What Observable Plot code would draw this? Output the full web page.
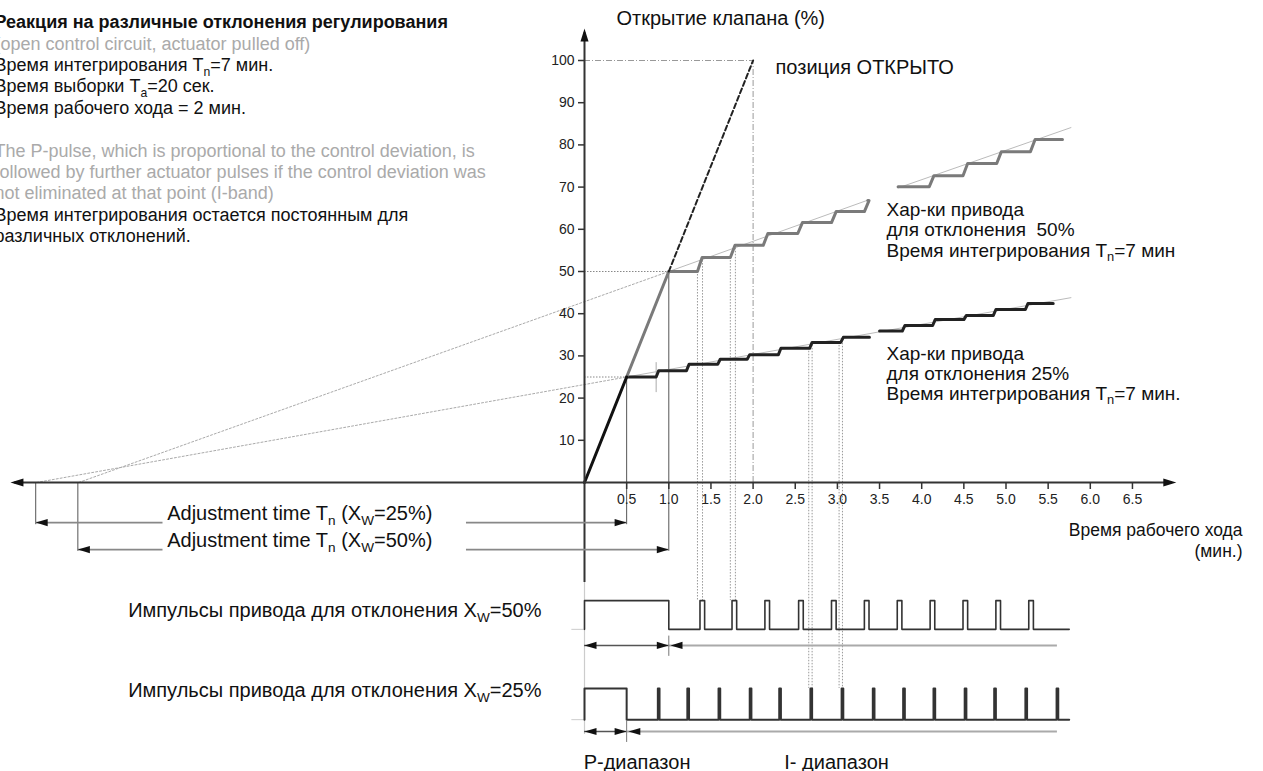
<!DOCTYPE html>
<html><head><meta charset="utf-8">
<script src="https://cdn.jsdelivr.net/npm/d3@7"></script>
<script src="https://cdn.jsdelivr.net/npm/@observablehq/plot@0.6"></script>
<style>
html,body{margin:0;padding:0;background:#fff;}
#chart svg{display:block;}
</style></head><body><div id="chart"></div>
<script>
// ---------------- DATA ----------------
const yTickValues = [10, 20, 30, 40, 50, 60, 70, 80, 90, 100];
const xTickValues = [0.5, 1.0, 1.5, 2.0, 2.5, 3.0, 3.5, 4.0, 4.5, 5.0, 5.5, 6.0, 6.5];
const xTickLabels = ["0.5","1.0","1.5","2.0","2.5","3.0","3.5","4.0","4.5","5.0","5.5","6.0","6.5"];

// P-ramp of the actuator (2 min full travel)
const rampTimes = [0, 0.5, 1.0];
const rampLevels = [0, 25, 50];
const openTimes = [1.0, 2.0];
const openLevels = [50, 100];

// integral (Tn = 7 min) reference lines
const ext25Times = [-6.5, 0.5], ext25Levels = [0, 25];
const ext50Times = [-6.0, 1.0], ext50Levels = [0, 50];
const trend25Times = [0.5, 5.77], trend25Levels = [25, 43.8];
const trend50LowTimes = [1.0, 3.36], trend50LowLevels = [50, 66.9];
const trend50UpTimes = [3.72, 5.77], trend50UpLevels = [69.8, 84.1];

// staircase responses (visible parts)
const stair50LowStepTimes = [1.34, 1.73, 2.12, 2.53, 2.93, 3.32];
const stair50LowLevels = [53.3, 56.2, 59.0, 61.6, 64.2, 66.8];
const stair50UpStepTimes = [4.09, 4.49, 4.89, 5.29];
const stair50UpLevels = [72.7, 75.6, 78.4, 81.3];
const stair25LowStepTimes = [0.85, 1.21, 1.58, 1.93, 2.30, 2.67, 3.04];
const stair25LowLevels = [26.5, 28.0, 29.2, 30.3, 31.8, 33.2, 34.4];
const stair25UpStepTimes = [3.77, 4.13, 4.50, 4.85, 5.23];
const stair25UpLevels = [37.2, 38.6, 39.6, 41.0, 42.4];
const stairSegments = [
  {start: 1.0, level: 50, end: 3.36},
  {start: 3.72, level: 70.1, end: 5.67},
  {start: 0.5, level: 25, end: 3.38},
  {start: 3.50, level: 35.9, end: 5.56}
];

// actuator pulses
const pBandEnds = [1.0, 0.5];           // P-pulse length for Xw = 50 %, 25 %
const pulse50Times = [1.37, 1.75, 2.14, 2.54, 2.93, 3.32, 3.71, 4.10, 4.49, 4.88, 5.27];
const pulse25Times = [0.87, 1.22, 1.59, 1.96, 2.31, 2.68, 3.05, 3.42, 3.78, 4.14, 4.51, 4.86, 5.23, 5.60];
const pulseEnd = 5.75;
const iBandEnd = 5.61;

// projection lines from the staircase down to the pulses
const drop50Times = [1.34, 1.40, 1.73, 1.79];
const drop50Levels = [50, 53.3, 53.3, 56.2];
const drop25Times = [2.66, 2.70, 3.02, 3.06];
const drop25Levels = [31.8, 33.2, 33.2, 34.4];

// texts
const noteLines = [
  "Реакция на различные отклонения регулирования",
  "(open control circuit, actuator pulled off)",
  "Время интегрирования T_{n}=7 мин.",
  "Время выборки T_{a}=20 сек.",
  "Время рабочего хода = 2 мин.",
  "",
  "The P-pulse, which is proportional to the control deviation, is",
  "followed by further actuator pulses if the control deviation was",
  "not eliminated at that point (I-band)",
  "Время интегрирования остается постоянным для",
  "различных отклонений."
];
const label50Lines = ["Хар-ки привода", "для отклонения  50%", "Время интегрирования T_{n}=7 мин"];
const label25Lines = ["Хар-ки привода", "для отклонения 25%", "Время интегрирования T_{n}=7 мин."];
const yAxisTitle = "Открытие клапана (%)";
const openLabel = "позиция ОТКРЫТО";
const xAxisTitle = ["Время рабочего хода", "(мин.)"];
const adjustLabels = ["Adjustment time T_{n} (X_{W}=25%)", "Adjustment time T_{n} (X_{W}=50%)"];
const pulseLabels = ["Импульсы привода для отклонения X_{W}=50%", "Импульсы привода для отклонения X_{W}=25%"];
const bandLabels = ["P-диапазон", "I- диапазон"];

// ---------------- LAYOUT / STYLE ----------------
const FONT = "'Liberation Sans', Arial, Helvetica, sans-serif";
const grayNote = new Set([1, 6, 7, 8]);
const ROW50 = {base: -34.8, top: -28.0, arrow: -38.6, label: -30.3};
const ROW25 = {base: -56.2, top: -48.8, arrow: -59.0, label: -49.3};
const ADJ = [{y: -9.5, text: -7.4, left: -6.51, right: 0.5}, {y: -15.9, text: -13.8, left: -6.01, right: 1.0}];
const GAP = [-5.0, -1.40];
const AXIS = {left: -6.81, right: 7.02, top: 107.6, below: -23.7, belowGray: -59.7};

const pts = (ts, ls) => ts.map((t, i) => ({t, v: ls[i]}));

function stair(seg, stepTimes, levels, riser) {
  const out = [{t: seg.start, v: seg.level}];
  let cur = seg.level;
  stepTimes.forEach((t, i) => {
    out.push({t, v: cur});
    out.push({t: t + riser, v: levels[i]});
    cur = levels[i];
  });
  out.push({t: seg.end, v: cur});
  return out;
}
function wave(row, pEnd, pulses, w) {
  const out = [{t: 0, v: row.base}, {t: 0, v: row.top}, {t: pEnd, v: row.top}, {t: pEnd, v: row.base}];
  pulses.forEach(p => { out.push({t: p, v: row.base}, {t: p, v: row.top}, {t: p + w, v: row.top}, {t: p + w, v: row.base}); });
  out.push({t: pulseEnd, v: row.base});
  return out;
}
const arrowSym = (L, W) => ({draw(ctx) { ctx.moveTo(0, 0); ctx.lineTo(-L, -W); ctx.lineTo(-L, W); ctx.closePath(); }});

const line = (data, o) => Plot.line(data, {x: "t", y: "v", ...o});

const marks = [];
// guides
marks.push(
  Plot.ruleY([100], {x1: 0, x2: 2.0, stroke: "#999", strokeDasharray: "6,2,1,2"}),
  Plot.ruleX([2.0], {y1: 0, y2: 100, stroke: "#999", strokeDasharray: "6,2,1,2"}),
  Plot.ruleY([50], {x1: 0, x2: 1.0, stroke: "#888", strokeDasharray: "1.5,1.5"}),
  Plot.ruleY([25], {x1: 0, x2: 0.5, stroke: "#888", strokeDasharray: "1.5,1.5"}),
  Plot.ruleX([0.5], {y1: 25, y2: ADJ[0].y - 0.5, stroke: "#555", strokeWidth: 1}),
  Plot.ruleX([1.0], {y1: 50, y2: ADJ[1].y - 0.4, stroke: "#555", strokeWidth: 1}),
  Plot.ruleX([ADJ[0].left], {y1: 0, y2: ADJ[0].y - 0.5, stroke: "#555", strokeWidth: 1}),
  Plot.ruleX([ADJ[1].left], {y1: 0, y2: ADJ[1].y - 0.4, stroke: "#555", strokeWidth: 1}),
  Plot.ruleX([0.85], {y1: 21.3, y2: 28.4, stroke: "#aaa", strokeWidth: 1}),
  Plot.ruleX(drop50Times, {x: d => d, y1: (d, i) => drop50Levels[i], y2: ROW50.top, stroke: "#999", strokeDasharray: "1.5,1.5", strokeWidth: 1}),
  Plot.ruleX(drop25Times, {x: d => d, y1: (d, i) => drop25Levels[i], y2: ROW25.top, stroke: "#999", strokeDasharray: "1.5,1.5", strokeWidth: 1}),
  Plot.ruleX([0], {y1: AXIS.below, y2: AXIS.belowGray, stroke: "#ccc", strokeWidth: 1.2})
);
// Tn reference lines
marks.push(
  line(pts(ext25Times, ext25Levels), {stroke: "#aaa", strokeDasharray: "2,2", strokeWidth: 1}),
  line(pts(ext50Times, ext50Levels), {stroke: "#aaa", strokeDasharray: "2,2", strokeWidth: 1}),
  line(pts(trend25Times, trend25Levels), {stroke: "#bbb", strokeWidth: 1}),
  line(pts(trend50LowTimes, trend50LowLevels), {stroke: "#bbb", strokeWidth: 1}),
  line(pts(trend50UpTimes, trend50UpLevels), {stroke: "#bbb", strokeWidth: 1})
);
// staircases
marks.push(
  line(stair(stairSegments[0], stair50LowStepTimes, stair50LowLevels, 0.055), {stroke: "#7a7a7a", strokeWidth: 3}),
  line(stair(stairSegments[1], stair50UpStepTimes, stair50UpLevels, 0.055), {stroke: "#7a7a7a", strokeWidth: 3}),
  line(stair(stairSegments[2], stair25LowStepTimes, stair25LowLevels, 0.03), {stroke: "#222", strokeWidth: 3}),
  line(stair(stairSegments[3], stair25UpStepTimes, stair25UpLevels, 0.03), {stroke: "#222", strokeWidth: 3})
);
// ramps
marks.push(
  line(pts(rampTimes.slice(1), rampLevels.slice(1)), {stroke: "#7a7a7a", strokeWidth: 3}),
  line(pts(rampTimes.slice(0, 2), rampLevels.slice(0, 2)), {stroke: "#111", strokeWidth: 3}),
  line(pts(openTimes, openLevels), {stroke: "#222", strokeWidth: 2, strokeDasharray: "5,3"})
);
// axes
marks.push(
  Plot.ruleY([0], {x1: AXIS.left + 0.05, x2: AXIS.right - 0.05, stroke: "#333", strokeWidth: 2}),
  Plot.ruleX([0], {y1: AXIS.below, y2: AXIS.top - 1, stroke: "#333", strokeWidth: 2}),
  Plot.ruleX(xTickValues, {x: d => d, y1: 0, y2: 0, insetBottom: -7, stroke: "#333", strokeWidth: 1.5}),
  Plot.ruleY(yTickValues, {y: d => d, x1: 0, x2: 0, insetLeft: -6, stroke: "#333", strokeWidth: 1.5}),
  Plot.text(xTickValues, {x: d => d, y: 0, dy: 17, text: (d, i) => xTickLabels[i], fontFamily: FONT, fontSize: 14, fill: "#222"}),
  Plot.text(yTickValues, {x: 0, y: d => d, dx: -10, textAnchor: "end", text: d => String(d), fontFamily: FONT, fontSize: 14, fill: "#222"})
);
// adjustment-time dimension lines
ADJ.forEach((a, i) => {
  marks.push(
    Plot.ruleY([a.y], {x1: a.left, x2: GAP[0], stroke: "#888", strokeWidth: 1.6}),
    Plot.ruleY([a.y], {x1: GAP[1], x2: a.right, stroke: "#888", strokeWidth: 1.6}),
    Plot.text([adjustLabels[i]], {x: GAP[0] + 0.05, y: a.text, text: d => d, textAnchor: "start", fontFamily: FONT, fontSize: 20, fill: "#111"})
  );
});
// pulses
marks.push(
  Plot.ruleY([ROW50.base], {x1: -0.15, x2: 0, stroke: "#ccc"}),
  Plot.ruleY([ROW25.base], {x1: -0.15, x2: 0, stroke: "#ccc"}),
  line(wave(ROW50, pBandEnds[0], pulse50Times, 0.055), {stroke: "#333", strokeWidth: 1.6}),
  line(wave(ROW25, pBandEnds[1], pulse25Times, 0.02), {stroke: "#333", strokeWidth: 2}),
  Plot.ruleY([ROW50.arrow], {x1: 0, x2: pBandEnds[0], stroke: "#555", strokeWidth: 1.5}),
  Plot.ruleY([ROW50.arrow], {x1: pBandEnds[0], x2: iBandEnd, stroke: "#aaa", strokeWidth: 2}),
  Plot.ruleY([ROW25.arrow], {x1: 0, x2: pBandEnds[1], stroke: "#555", strokeWidth: 1.5}),
  Plot.ruleY([ROW25.arrow], {x1: pBandEnds[1], x2: iBandEnd, stroke: "#aaa", strokeWidth: 2}),
  Plot.ruleX([pBandEnds[0]], {y1: ROW50.arrow + 2.2, y2: ROW50.arrow - 2.6, stroke: "#777", strokeWidth: 1}),
  Plot.ruleX([pBandEnds[1]], {y1: ROW25.base - 0.2, y2: ROW25.arrow - 2.6, stroke: "#777", strokeWidth: 1}),
  Plot.text([pulseLabels[0]], {x: -0.51, y: ROW50.label, text: d => d, textAnchor: "end", fontFamily: FONT, fontSize: 20, fill: "#111"}),
  Plot.text([pulseLabels[1]], {x: -0.51, y: ROW25.label, text: d => d, textAnchor: "end", fontFamily: FONT, fontSize: 20, fill: "#111"}),
  Plot.text([bandLabels[0]], {x: -0.01, y: -66.4, text: d => d, textAnchor: "start", fontFamily: FONT, fontSize: 20, fill: "#111"}),
  Plot.text([bandLabels[1]], {x: 2.37, y: -66.4, text: d => d, textAnchor: "start", fontFamily: FONT, fontSize: 20, fill: "#111"})
);
// arrowheads
const bigHead = arrowSym(13, 4);
const smallHead = arrowSym(12, 3.6);
marks.push(
  Plot.dot([{t: AXIS.left, v: 0, r: 180}, {t: AXIS.right, v: 0, r: 0}, {t: 0, v: AXIS.top, r: -90}],
    {x: "t", y: "v", rotate: "r", symbol: bigHead, fill: "#111", stroke: "none", r: 5}),
  Plot.dot([
    {t: ADJ[0].left, v: ADJ[0].y, r: 180}, {t: ADJ[0].right, v: ADJ[0].y, r: 0},
    {t: ADJ[1].left, v: ADJ[1].y, r: 180}, {t: ADJ[1].right, v: ADJ[1].y, r: 0},
    {t: 0, v: ROW50.arrow, r: 180}, {t: pBandEnds[0], v: ROW50.arrow, r: 0}, {t: pBandEnds[0] + 0.02, v: ROW50.arrow, r: 180},
    {t: 0, v: ROW25.arrow, r: 180}, {t: pBandEnds[1], v: ROW25.arrow, r: 0}, {t: pBandEnds[1] + 0.02, v: ROW25.arrow, r: 180}
  ], {x: "t", y: "v", rotate: "r", symbol: smallHead, fill: "#111", stroke: "none", r: 5})
);
// annotations
marks.push(
  Plot.text([yAxisTitle], {frameAnchor: "top-left", dx: 616, dy: 18, lineAnchor: "middle", text: d => d, fontFamily: FONT, fontSize: 20, fill: "#111"}),
  Plot.text([openLabel], {frameAnchor: "top-left", dx: 775, dy: 67, lineAnchor: "middle", text: d => d, fontFamily: FONT, fontSize: 20, fill: "#111"}),
  Plot.text([xAxisTitle[0]], {frameAnchor: "top-left", dx: 1242, dy: 530, textAnchor: "end", lineAnchor: "middle", text: d => d, fontFamily: FONT, fontSize: 17.5, fill: "#111"}),
  Plot.text([xAxisTitle[1]], {frameAnchor: "top-left", dx: 1242, dy: 551, textAnchor: "end", lineAnchor: "middle", text: d => d, fontFamily: FONT, fontSize: 17.5, fill: "#111"})
);
label50Lines.forEach((s, i) => marks.push(Plot.text([s], {frameAnchor: "top-left", dx: 886, dy: 209 + i * 20.5, lineAnchor: "middle", textAnchor: "start", text: d => d, fontFamily: FONT, fontSize: 19, fill: "#111"})));
label25Lines.forEach((s, i) => marks.push(Plot.text([s], {frameAnchor: "top-left", dx: 886, dy: 353 + i * 20, lineAnchor: "middle", textAnchor: "start", text: d => d, fontFamily: FONT, fontSize: 19, fill: "#111"})));
noteLines.forEach((s, i) => { if (s) marks.push(Plot.text([s], {frameAnchor: "top-left", dx: -6, dy: 22 + i * 21.4, lineAnchor: "middle", textAnchor: "start", text: d => d, fontFamily: FONT, fontSize: 18, fontWeight: i === 0 ? "bold" : "normal", fill: grayNote.has(i) ? "#aaa" : "#111"})); });

const chart = Plot.plot({
  width: 1263, height: 771, margin: 0,
  x: {type: "linear", domain: [0, 6.5], range: [584, 584 + 6.5 * 84.3], axis: null},
  y: {type: "linear", domain: [0, 100], range: [482, 60], axis: null},
  style: {background: "#fff", fontFamily: FONT, overflow: "visible"},
  marks
});
document.getElementById("chart").appendChild(chart);

// subscript rendering: "_{x}" -> lowered small tspan
(function applySubscripts(svg) {
  const NS = "http://www.w3.org/2000/svg";
  svg.querySelectorAll("text").forEach(t => {
    const tspans = t.querySelectorAll("tspan");
    const targets = tspans.length ? [...tspans] : [t];
    targets.forEach(el => {
      const s = el.textContent;
      if (!s.includes("_{")) return;
      const fs = parseFloat(getComputedStyle(el).fontSize) || 16;
      const shift = fs * 0.25;
      el.textContent = "";
      let lowered = false;
      s.split(/(_\{[^}]*\})/).forEach(part => {
        if (!part) return;
        const ts = document.createElementNS(NS, "tspan");
        if (part.startsWith("_{")) {
          ts.textContent = part.slice(2, -1);
          ts.setAttribute("font-size", (fs * 0.68).toFixed(1) + "px");
          ts.setAttribute("dy", shift.toFixed(1));
          lowered = true;
        } else {
          ts.textContent = part;
          if (lowered) { ts.setAttribute("dy", (-shift).toFixed(1)); lowered = false; }
        }
        el.appendChild(ts);
      });
    });
  });
})(chart);
</script>
</body></html>
